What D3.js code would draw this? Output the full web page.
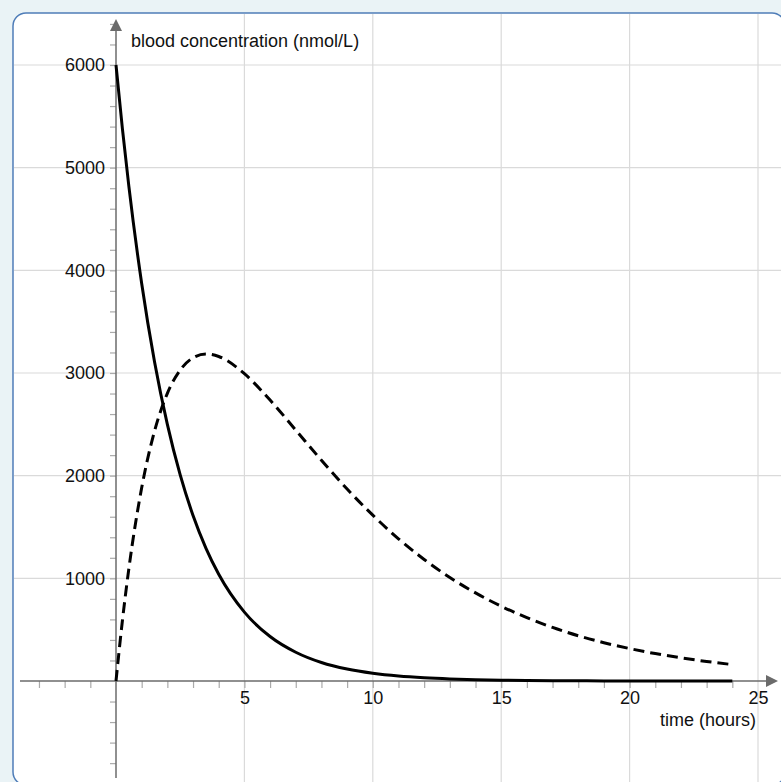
<!DOCTYPE html>
<html>
<head>
<meta charset="utf-8">
<script src="https://cdn.jsdelivr.net/npm/d3@7"></script>
<style>
  body { margin: 0; background: #eaf3f6; }
  svg { display: block; font-family: "Liberation Sans", Arial, sans-serif; }
</style>
</head>
<body>
<svg id="chart" width="781" height="782"></svg>
<script>
// time in hours
var times = [0, 0.25, 0.5, 1, 1.5, 2, 2.5, 3, 3.5, 4, 5, 6, 7, 8, 9, 10, 11, 12, 13, 14, 15, 16, 17, 18, 19, 20, 21, 22, 23, 24];
// solid curve (drug)
var drugValues = [6000, 5378, 4820, 3872, 3110, 2499, 2007, 1612, 1295, 1040, 671, 433, 280, 180, 116, 75, 48, 31, 20, 13, 8, 5, 3, 2, 1, 1, 0, 0, 0, 0];
// dashed curve (metabolite)
var metaboliteValues = [0, 589, 1093, 1882, 2433, 2802, 3029, 3148, 3185, 3161, 2993, 2736, 2444, 2150, 1870, 1615, 1385, 1184, 1008, 858, 728, 617, 522, 441, 373, 316, 267, 226, 190, 160];

var xLabels = [5, 10, 15, 20, 25];
var yLabels = [1000, 2000, 3000, 4000, 5000, 6000];
var xGrid = [5, 10, 15, 20, 25];
var yGrid = [1000, 2000, 3000, 4000, 5000, 6000];

var svg = d3.select("#chart");

var x = d3.scaleLinear().domain([0, 25]).range([116, 758]);
var y = d3.scaleLinear().domain([0, 6000]).range([681, 65]);

// panel
svg.append("rect")
    .attr("x", 13).attr("y", 13)
    .attr("width", 772).attr("height", 772)
    .attr("rx", 13)
    .attr("fill", "#fff")
    .attr("stroke", "#4f7db8")
    .attr("stroke-width", 1.5);

// grid
svg.append("g").selectAll("line").data(xGrid).enter().append("line")
    .attr("x1", function (d) { return x(d); }).attr("x2", function (d) { return x(d); })
    .attr("y1", 14).attr("y2", 782)
    .attr("stroke", "#dadada").attr("stroke-width", 1.2);

svg.append("g").selectAll("line").data(yGrid).enter().append("line")
    .attr("y1", function (d) { return y(d); }).attr("y2", function (d) { return y(d); })
    .attr("x1", 14).attr("x2", 781)
    .attr("stroke", "#dadada").attr("stroke-width", 1.2);

// minor ticks
var xTicks = d3.range(-3, 25).filter(function (d) { return d !== 0; });
var yTicks = d3.range(-800, 6401, 200).filter(function (d) { return d !== 0; });

svg.append("g")
    .attr("transform", "translate(0," + y(0) + ")")
    .call(d3.axisBottom(x).tickValues(xTicks).tickSize(7).tickFormat(""))
    .call(function (g) {
        g.select(".domain").remove();
        g.selectAll("line").attr("stroke", "#aaa").attr("stroke-width", 1.2);
    });

svg.append("g")
    .attr("transform", "translate(" + x(0) + ",0)")
    .call(d3.axisLeft(y).tickValues(yTicks).tickSize(6).tickFormat(""))
    .call(function (g) {
        g.select(".domain").remove();
        g.selectAll("line").attr("stroke", "#aaa").attr("stroke-width", 1.2);
    });

// tick labels
svg.append("g")
    .attr("transform", "translate(0," + y(0) + ")")
    .call(d3.axisBottom(x).tickValues(xLabels).tickSize(0).tickPadding(10).tickFormat(d3.format("d")))
    .call(function (g) {
        g.attr("font-size", 18).attr("font-family", "Liberation Sans, Arial, sans-serif");
        g.select(".domain").remove();
        g.selectAll("text").attr("fill", "#111");
    });

svg.append("g")
    .attr("transform", "translate(" + x(0) + ",0)")
    .call(d3.axisLeft(y).tickValues(yLabels).tickSize(0).tickPadding(11).tickFormat(d3.format("d")))
    .call(function (g) {
        g.attr("font-size", 18).attr("font-family", "Liberation Sans, Arial, sans-serif");
        g.select(".domain").remove();
        g.selectAll("text").attr("fill", "#111");
    });

// axes with arrows
var axisColor = "#6b6b6b";
svg.append("line")
    .attr("x1", 20).attr("x2", 768)
    .attr("y1", y(0)).attr("y2", y(0))
    .attr("stroke", axisColor).attr("stroke-width", 1.5);
svg.append("path")
    .attr("d", "M" + 778 + "," + y(0) + " L766," + (y(0) - 6) + " L766," + (y(0) + 6) + "Z")
    .attr("fill", axisColor);

svg.append("line")
    .attr("x1", x(0)).attr("x2", x(0))
    .attr("y1", 778).attr("y2", 30)
    .attr("stroke", axisColor).attr("stroke-width", 1.5);
svg.append("path")
    .attr("d", "M" + x(0) + ",19 L" + (x(0) - 6) + ",31 L" + (x(0) + 6) + ",31Z")
    .attr("fill", axisColor);

// axis titles
svg.append("text")
    .attr("x", 131).attr("y", 47)
    .attr("font-size", 18).attr("fill", "#111")
    .text("blood concentration (nmol/L)");

svg.append("text")
    .attr("x", 756).attr("y", 726)
    .attr("text-anchor", "end")
    .attr("font-size", 18).attr("fill", "#111")
    .text("time (hours)");

// curves
var line = d3.line()
    .x(function (d) { return x(d[0]); })
    .y(function (d) { return y(d[1]); })
    .curve(d3.curveMonotoneX);

svg.append("path")
    .datum(d3.zip(times, metaboliteValues))
    .attr("d", line)
    .attr("fill", "none")
    .attr("stroke", "#000")
    .attr("stroke-width", 3)
    .attr("stroke-dasharray", "11,6");

svg.append("path")
    .datum(d3.zip(times, drugValues))
    .attr("d", line)
    .attr("fill", "none")
    .attr("stroke", "#000")
    .attr("stroke-width", 3);
</script>
</body>
</html>
